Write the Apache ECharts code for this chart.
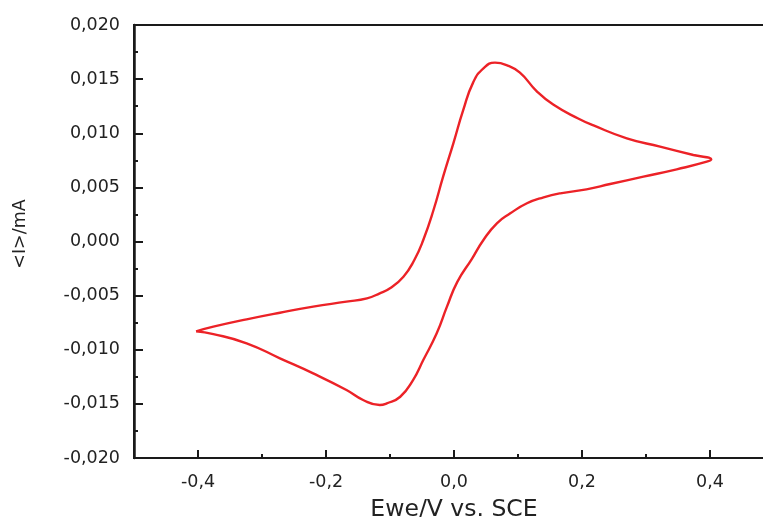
<!DOCTYPE html>
<html>
<head>
<meta charset="utf-8">
<script src="https://cdn.jsdelivr.net/npm/echarts@6/dist/echarts.min.js"></script>
<style>
  html, body { margin: 0; padding: 0; background: #fff; overflow: hidden; }
  #chart { width: 763px; height: 517px; }
</style>
</head>
<body>
<div id="chart"></div>
<script>
// Cyclic voltammogram: one closed scan, potential (V vs. SCE) against mean current (mA)
const potential = [
  -0.403, -0.376, -0.324, -0.272, -0.220, -0.168, -0.136, -0.116, -0.100, -0.079,
  -0.062, -0.048, -0.032, -0.017, -0.001, 0.0145, 0.030, 0.046, 0.064, 0.082,
  0.103, 0.129, 0.155, 0.194, 0.218, 0.270, 0.322, 0.374, 0.402,
  0.395, 0.348, 0.296, 0.244, 0.207, 0.166, 0.140, 0.114, 0.088, 0.067,
  0.046, 0.028, 0.005, -0.011, -0.027, -0.048, -0.064, -0.084, -0.105, -0.116,
  -0.142, -0.168, -0.220, -0.272, -0.324, -0.376, -0.403
];
const current = [
  -0.00830, -0.00787, -0.00719, -0.00658, -0.00602, -0.00556, -0.00525, -0.00479, -0.00432, -0.00325,
  -0.00171, 0.00014, 0.00291, 0.00599, 0.00907, 0.01215, 0.01470, 0.01600, 0.01652, 0.01630,
  0.01560, 0.01390, 0.01265, 0.01136, 0.01072, 0.00953, 0.00876, 0.00799, 0.00759,
  0.00737, 0.00667, 0.00599, 0.00531, 0.00482, 0.00445, 0.00408, 0.00353, 0.00260, 0.00168,
  0.00014, -0.00160, -0.00375, -0.00602, -0.00848, -0.01095, -0.01280, -0.01434, -0.01495, -0.01510,
  -0.01464, -0.01372, -0.01218, -0.01079, -0.00940, -0.00855, -0.00830
];

// Axis ticks
const xMajorTicks = [-0.4, -0.2, 0.0, 0.2, 0.4];
const xRange = [-0.5, 0.5];
const yRange = [-0.020, 0.020];
const yStep = 0.005;

const fontFamily = 'DejaVu Sans';
const ink = '#1a1a1a';
const textInk = '#222';

const fmtComma = (v, digits) => {
  if (Math.abs(v) < 1e-9) v = 0;
  return v.toFixed(digits).replace('.', ',');
};

const chart = echarts.init(document.getElementById('chart'), null, { renderer: 'canvas' });

chart.setOption({
  animation: false,
  backgroundColor: '#fff',
  grid: {
    left: 134,
    top: 25,
    width: 640,
    bottom: 59,
    outerBoundsMode: 'none',
    containLabel: false,
    show: true,
    borderColor: ink,
    borderWidth: 2,
    backgroundColor: 'transparent'
  },
  xAxis: [
    {
      type: 'value',
      min: xRange[0],
      max: xRange[1],
      position: 'bottom',
      name: 'Ewe/V vs. SCE',
      nameLocation: 'middle',
      nameGap: 40,
      nameTextStyle: { fontFamily, fontSize: 23.5, color: textInk },
      axisLine: { show: true, onZero: false, lineStyle: { color: ink, width: 2 } },
      axisTick: { show: true, inside: true, length: 8, customValues: xMajorTicks, lineStyle: { color: ink, width: 2 } },
      axisLabel: {
        customValues: xMajorTicks,
        margin: 15,
        fontFamily, fontSize: 17.5, color: textInk,
        formatter: v => fmtComma(v, 1)
      },
      splitLine: { show: false }
    },
    {
      // intermediate ticks every 0.1 V
      type: 'value',
      min: xRange[0],
      max: xRange[1],
      interval: 0.1,
      position: 'bottom',
      axisLine: { show: false, onZero: false },
      axisTick: { show: true, inside: true, length: 4, lineStyle: { color: ink, width: 2 } },
      axisLabel: { show: false },
      splitLine: { show: false }
    }
  ],
  yAxis: {
    type: 'value',
    min: yRange[0],
    max: yRange[1],
    interval: yStep,
    name: '<I>/mA',
    nameLocation: 'middle',
    nameGap: 105,
    nameRotate: 90,
    nameTextStyle: { fontFamily, fontSize: 17.5, color: textInk, padding: [0, 0, 0, 15] },
    axisLine: { show: true, onZero: false, lineStyle: { color: ink, width: 2.5 } },
    axisTick: { show: true, inside: true, length: 9, lineStyle: { color: ink, width: 2 } },
    minorTick: { show: true, splitNumber: 2, length: 4, lineStyle: { color: ink, width: 2 } },
    axisLabel: {
      margin: 14,
      fontFamily, fontSize: 17.5, color: textInk,
      formatter: v => fmtComma(v, 3)
    },
    splitLine: { show: false },
    minorSplitLine: { show: false }
  },
  series: [
    {
      type: 'line',
      xAxisIndex: 0,
      data: potential.map((v, i) => [v, current[i]]),
      showSymbol: false,
      smooth: 0.5,
      lineStyle: { color: '#ec2227', width: 2.4 },
      clip: true
    }
  ]
});
</script>
</body>
</html>
